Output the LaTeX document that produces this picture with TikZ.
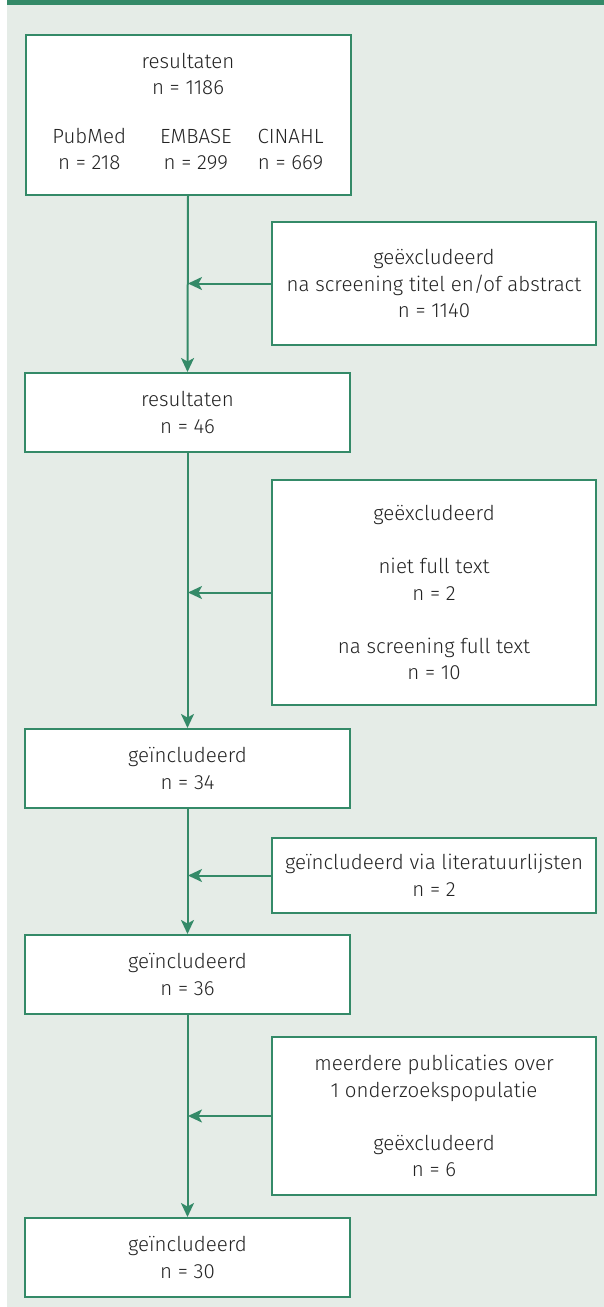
\documentclass[tikz,border=0pt]{standalone}
\usepackage{fontspec}
\setmainfont{Fira Sans}[UprightFont={* Light}]
\usetikzlibrary{arrows.meta}
\definecolor{flowgreen}{RGB}{52,138,104}
\definecolor{panelgray}{RGB}{229,236,231}
\definecolor{textgray}{RGB}{35,35,35}
\tikzset{%
	box/.style = { draw=flowgreen, line width=2pt, fill=white, align=center, text=textgray,
		font=\fontsize{20.5}{26.5}\selectfont, inner sep=0pt },
	mainbox/.style = { box, minimum width=325pt },
	sidebox/.style = { box, minimum width=324pt },
	flow/.style = { draw=flowgreen, line width=2pt, -{Stealth[length=14pt,width=13pt,inset=3.5pt]} }
}

\begin{document}
\begin{tikzpicture}[x=1pt, y=-1pt]
	\useasboundingbox (0,0) rectangle (604,1307);
	% achtergrond en balk bovenaan
	\fill[panelgray] (7,0) rectangle (604,1307);
	\fill[flowgreen] (7,0) rectangle (604,5);

	% hoofdkolom
	\node[mainbox, minimum height=160pt] (res1) at (188,115) {resultaten\\ n = 1186\\[29pt]
		\begin{tabular}{@{}c@{\hspace{34pt}}c@{\hspace{26pt}}c@{}}
			PubMed & EMBASE & CINAHL\\[-1pt]
			n = 218 & n = 299 & n = 669
		\end{tabular}};
	\node[mainbox, minimum height=79pt] (res2) at (187.5,412.5) {resultaten\\ n = 46};
	\node[mainbox, minimum height=79pt] (inc1) at (187.5,768.5) {geïncludeerd\\ n = 34};
	\node[mainbox, minimum height=79pt] (inc2) at (187.5,974.5) {geïncludeerd\\ n = 36};
	\node[mainbox, minimum height=79pt] (inc3) at (187.5,1257.5) {geïncludeerd\\ n = 30};

	% zijkolom
	\node[sidebox, minimum height=123pt] (exc1) at (434,283.5) {geëxcludeerd\\ na screening titel en/of abstract\\ n = 1140};
	\node[sidebox, minimum height=225pt] (exc2) at (434,592.5) {geëxcludeerd\\[26.5pt] niet full text\\ n = 2\\[26.5pt] na screening full text\\ n = 10};
	\node[sidebox, minimum height=75pt] (lit) at (434,875.5) {geïncludeerd via literatuurlijsten\\ n = 2};
	\node[sidebox, minimum height=158pt] (exc3) at (434,1116) {meerdere publicaties over\\ 1 onderzoekspopulatie\\[26.5pt] geëxcludeerd\\ n = 6};

	% verticale pijlen
	\draw[flow] (res1.south) -- (res2.north);
	\draw[flow] (res2.south) -- (inc1.north);
	\draw[flow] (inc1.south) -- (inc2.north);
	\draw[flow] (inc2.south) -- (inc3.north);

	% pijlen vanuit de zijkolom
	\foreach \b in {exc1,exc2,lit,exc3}
		\draw[flow] (\b.west) -- (\b.west -| res1.south);
\end{tikzpicture}
\end{document}
